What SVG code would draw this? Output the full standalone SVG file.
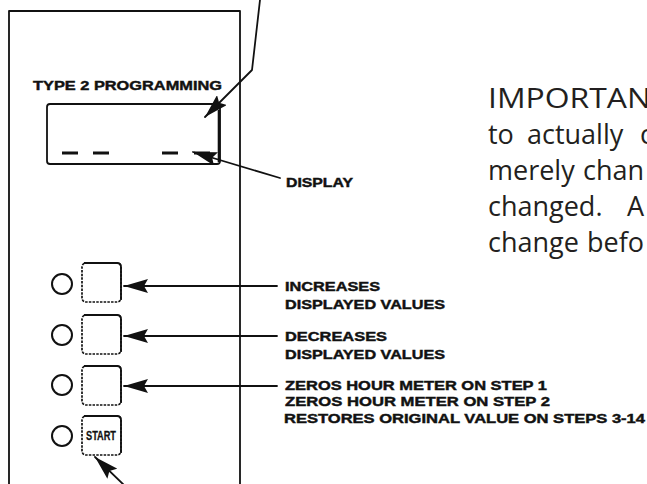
<svg xmlns="http://www.w3.org/2000/svg" width="647" height="484" viewBox="0 0 647 484">
<style>
.ln{fill:none;stroke:#111;stroke-width:1.8;stroke-linecap:round;stroke-linejoin:round}
.lbl{font-family:"Liberation Sans",Arial,sans-serif;font-weight:bold;font-size:13.5px;fill:#111;stroke:#111;stroke-width:0.45}
.btn{fill:#fff;stroke:#111;stroke-width:1.7;stroke-dasharray:2.5 1.2}
.btnedge{fill:none;stroke:#111;stroke-width:1.8}
.led{fill:#fff;stroke:#111;stroke-width:2}
.body{font-family:"Open Sans","Lato",sans-serif;font-size:27px;fill:#231f20}
</style>
<defs>
<marker id="ah" viewBox="0 0 24 14" refX="24" refY="7" markerWidth="24" markerHeight="14" markerUnits="userSpaceOnUse" orient="auto">
<path d="M0,0 L24,7 L0,14 L4,7 Z" fill="#111"/>
</marker>
</defs>
<rect width="647" height="484" fill="#fff"/>
<g id="panel">
<path class="ln" d="M9,490 V11 H240 V490"/>
<text class="lbl" x="33" y="90" font-size="14" textLength="189" lengthAdjust="spacingAndGlyphs">TYPE 2 PROGRAMMING</text>
</g>
<g id="display">
<rect x="47" y="104" width="173" height="60" rx="3" fill="none" stroke="#111" stroke-width="1.8"/>
<path d="M219,110 V162" stroke="#111" stroke-width="2.6"/>
<path d="M62,153 H78 M93,153 H109 M162,153 H178 M194,153 H210" stroke="#111" stroke-width="2.8"/>
</g>
<g id="button-increase">
<circle class="led" cx="62" cy="284" r="10"/>
<rect class="btn" x="82" y="263" width="39" height="39" rx="4"/>
<path class="btnedge" d="M84,263 H117 Q121,263 121,267 V300"/>
</g>
<g id="button-decrease">
<circle class="led" cx="62" cy="335" r="10"/>
<rect class="btn" x="82" y="315" width="39" height="39" rx="4"/>
<path class="btnedge" d="M84,315 H117 Q121,315 121,319 V352"/>
</g>
<g id="button-zero">
<circle class="led" cx="62" cy="385" r="10"/>
<rect class="btn" x="82" y="366" width="39" height="39" rx="4"/>
<path class="btnedge" d="M84,366 H117 Q121,366 121,370 V403"/>
</g>
<g id="button-start">
<circle class="led" cx="62" cy="436" r="10"/>
<rect class="btn" x="82" y="416" width="39" height="39" rx="4"/>
<path class="btnedge" d="M84,416 H117 Q121,416 121,420 V453"/>
<text class="lbl" x="86" y="440" font-size="10" style="stroke-width:0.3" textLength="30" lengthAdjust="spacingAndGlyphs">START</text>
</g>
<g id="labels">
<text class="lbl" x="286" y="187" textLength="67" lengthAdjust="spacingAndGlyphs">DISPLAY</text>
<text class="lbl" x="285" y="291" textLength="95" lengthAdjust="spacingAndGlyphs">INCREASES</text>
<text class="lbl" x="285" y="309" textLength="160" lengthAdjust="spacingAndGlyphs">DISPLAYED VALUES</text>
<text class="lbl" x="285" y="341" textLength="102" lengthAdjust="spacingAndGlyphs">DECREASES</text>
<text class="lbl" x="285" y="359" textLength="160" lengthAdjust="spacingAndGlyphs">DISPLAYED VALUES</text>
<text class="lbl" x="285" y="390" textLength="262" lengthAdjust="spacingAndGlyphs">ZEROS HOUR METER ON STEP 1</text>
<text class="lbl" x="285" y="406" textLength="265" lengthAdjust="spacingAndGlyphs">ZEROS HOUR METER ON STEP 2</text>
<text class="lbl" x="284" y="423" textLength="361" lengthAdjust="spacingAndGlyphs">RESTORES ORIGINAL VALUE ON STEPS 3-14</text>
</g>
<g id="note">
<text class="body" x="488" y="108" textLength="163" lengthAdjust="spacingAndGlyphs">IMPORTAN</text>
<text class="body" x="488" y="144">to</text>
<text class="body" x="527" y="144">actually</text>
<text class="body" x="640" y="144">c</text>
<text class="body" x="488" y="180">merely</text>
<text class="body" x="583" y="180">chan</text>
<text class="body" x="488" y="216">changed.</text>
<text class="body" x="627" y="216">A</text>
<text class="body" x="488" y="252">change</text>
<text class="body" x="587" y="252">befo</text>
</g>
<g id="connectors">
<path class="ln" d="M260,0 L256,35 L252,70 L205,117" marker-end="url(#ah)"/>
<path class="ln" d="M280,178 L193,152" marker-end="url(#ah)"/>
<path class="ln" d="M277,286 H124" marker-end="url(#ah)"/>
<path class="ln" d="M277,336 H124" marker-end="url(#ah)"/>
<path class="ln" d="M277,386 H124" marker-end="url(#ah)"/>
<path class="ln" d="M125,486 L95,457" marker-end="url(#ah)"/>
</g>
</svg>
